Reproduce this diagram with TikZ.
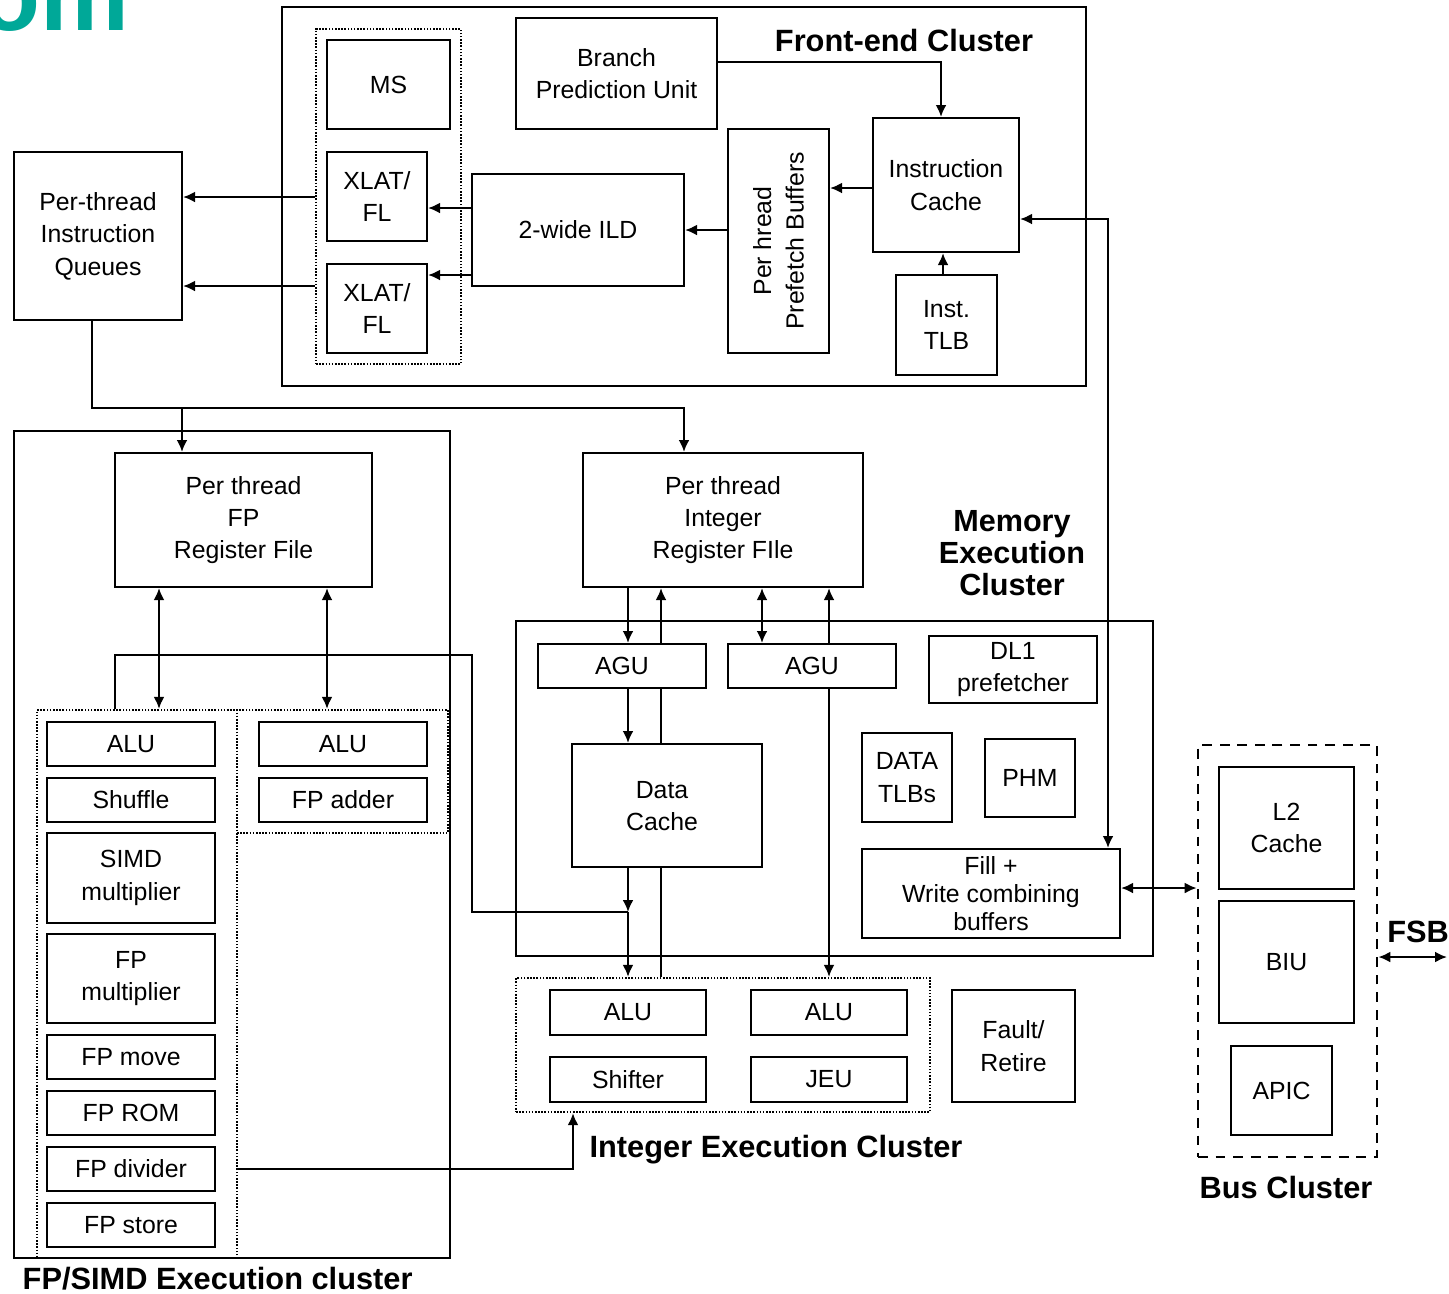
\documentclass[tikz,border=0pt]{standalone}
\usepackage{fontspec}
\setmainfont{Liberation Sans}
\usetikzlibrary{arrows.meta}
\definecolor{brandteal}{HTML}{00A898}

% a block given by its corner coordinates
\newcommand\blockat[7][blk]{%
  \node[#1, minimum width={(#5-#3)*0.01cm}, minimum height={(#6-#4)*0.01cm}]
    (#2) at ({(#3+#5)/2},{(#4+#6)/2}) {#7};}

\tikzset{
  txt/.style={align=center, inner sep=0pt, font=\fontsize{7.06}{9.2}\selectfont},
  blk/.style={txt, draw, line width=0.6pt, fill=white},
  grp/.style={draw, line width=0.6pt, inner sep=0pt},
  dotbox/.style={draw, line width=0.65pt, dash pattern=on 0.45pt off 0.45pt, inner sep=0pt},
  dashbox/.style={draw, line width=0.75pt, dash pattern=on 2.8pt off 2.2pt, inner sep=0pt},
  ttl/.style={align=center, inner sep=0pt, font=\bfseries\fontsize{8.75}{9}\selectfont},
  wire/.style={line width=0.6pt},
  tip/.tip={Latex[length=3.4pt,width=3.1pt]},
  arr/.style={wire, -tip},
  dbl/.style={wire, tip-tip},
}

\begin{document}
\begin{tikzpicture}[x=0.01cm, y=-0.01cm]
\useasboundingbox[fill=white] (0,0) rectangle (1449,1293);

% heading fragment at the top left
\node[anchor=base west, inner sep=0pt, text=brandteal,
      font=\bfseries\fontsize{28.4}{28.4}\selectfont] (om) at (-21,30) {om};

% cluster outlines
\blockat[grp]{fe}{282}{7}{1086}{386}{}
\blockat[grp]{fpc}{14}{431}{450}{1258}{}
\blockat[grp]{mem}{516}{621}{1153}{956}{}
\blockat[dotbox]{dbox}{316}{29}{461}{364}{}
\blockat[dotbox]{fpl}{37}{710}{237}{1258}{}
\blockat[dotbox]{fpr}{237}{710}{448}{833}{}
\blockat[dotbox]{ibox}{516}{978}{930}{1112}{}
\blockat[dashbox]{bus}{1198}{745}{1377}{1157}{}

% front end
\blockat{ms}{327}{40}{450}{129}{MS}
\blockat{xl1}{327}{152}{427}{241}{XLAT/\\FL}
\blockat{xl2}{327}{264}{427}{353}{XLAT/\\FL}
\blockat{bpu}{516}{18}{717}{129}{Branch\\Prediction Unit}
\blockat{ild}{472}{174}{684}{286}{2-wide ILD}
\blockat{ppb}{728}{129}{829}{353}{}
\node[txt, rotate=90] (ppbt) at (ppb.center) {Per hread\\Prefetch Buffers};
\blockat{ic}{873}{118}{1019}{252}{Instruction\\Cache}
\blockat{itlb}{896}{275}{997}{375}{Inst.\\TLB}
\blockat{ptiq}{14}{152}{182}{320}{Per-thread\\Instruction\\Queues}

% FP / SIMD
\blockat{fprf}{115}{453}{372}{587}{Per thread\\FP\\Register File}
\blockat{falu}{47}{722}{215}{766}{ALU}
\blockat{fshuf}{47}{778}{215}{822}{Shuffle}
\blockat{fsimd}{47}{833}{215}{923}{SIMD\\multiplier}
\blockat{fmul}{47}{934}{215}{1023}{FP\\multiplier}
\blockat{fmove}{47}{1035}{215}{1079}{FP move}
\blockat{from}{47}{1091}{215}{1135}{FP ROM}
\blockat{fdiv}{47}{1147}{215}{1191}{FP divider}
\blockat{fstore}{47}{1203}{215}{1247}{FP store}
\blockat{falu2}{259}{722}{427}{766}{ALU}
\blockat{fadd}{259}{778}{427}{822}{FP adder}

% integer and memory
\blockat{irf}{583}{453}{863}{587}{Per thread\\Integer\\Register FIle}
\blockat{agu1}{538}{644}{706}{688}{AGU}
\blockat{agu2}{728}{644}{896}{688}{AGU}
\blockat{dl1}{929}{636}{1097}{703}{DL1\\prefetcher}
\blockat{dtlb}{862}{733}{952}{822}{DATA\\TLBs}
\blockat{phm}{985}{739}{1075}{817}{PHM}
\blockat[blk, font=\fontsize{7.06}{8}\selectfont]{fill}{862}{849}{1120}{938}{Fill +\\Write combining\\buffers}
\blockat{dc}{572}{744}{762}{867}{}
\node[txt] (dct) at (662,806) {Data\\Cache};
\blockat{ialu1}{550}{990}{706}{1035}{ALU}
\blockat{ialu2}{751}{990}{907}{1035}{ALU}
\blockat{shift}{550}{1057}{706}{1102}{Shifter}
\blockat{jeu}{751}{1057}{907}{1102}{JEU}
\blockat{fault}{952}{990}{1075}{1102}{Fault/\\Retire}

% bus
\blockat{l2}{1219}{767}{1354}{889}{L2\\Cache}
\blockat{biu}{1219}{901}{1354}{1023}{BIU}
\blockat{apic}{1231}{1046}{1332}{1135}{APIC}

% cluster titles
\node[ttl] (tfe) at (904,40) {Front-end Cluster};
\node[ttl, font=\bfseries\fontsize{8.7}{9}\selectfont] (tmem) at (1012,553) {Memory\\Execution\\Cluster};
\node[ttl] (tint) at (776,1150) {Integer Execution Cluster};
\node[ttl] (tbus) at (1286,1187) {Bus Cluster};
\node[ttl] (tfsb) at (1418,932) {FSB};
\node[ttl, anchor=base west] (tfp) at (22,1289) {FP/SIMD Execution cluster};

% front-end connections
\draw[arr] (bpu.east |- 0,62) -| (ic.north -| 941,0);
\draw[arr] (ic.west |- 0,188) -- (ppb.east |- 0,188);
\draw[arr] (ppb.west |- 0,230) -- (ild.east |- 0,230);
\draw[arr] (ild.west |- 0,208) -- (xl1.east |- 0,208);
\draw[arr] (ild.west |- 0,275) -- (xl2.east |- 0,275);
\draw[arr] (dbox.west |- 0,197) -- (ptiq.east |- 0,197);
\draw[arr] (dbox.west |- 0,286) -- (ptiq.east |- 0,286);
\draw[arr] (itlb.north -| 943,0) -- (ic.south -| 943,0);
\draw[dbl] (ic.east |- 0,219) -| (fill.north -| 1108,0);

% queues to register files
\coordinate (qj) at (182,408);
\draw[arr] (ptiq.south -| 92,0) |- (qj) -| (irf.north -| 684,0);
\draw[arr] (qj) -- (fprf.north -| 182,0);

% FP register file
\draw[dbl] (fprf.south -| 159,0) -- (fpl.north -| 159,0);
\draw[dbl] (fprf.south -| 327,0) -- (fpr.north -| 327,0);
\coordinate (mj) at (628,912);
\draw[wire] (fpl.north -| 115,0) |- (472,655) |- (mj);
\draw[arr] (fdiv.east -| fpl.east) -| (ibox.south -| 573,0);

% integer register file and memory
\draw[arr] (irf.south -| 628,0) -- (agu1.north -| 628,0);
\draw[arr] (agu1.north -| 661,0) -- (irf.south -| 661,0);
\draw[dbl] (irf.south -| 762,0) -- (agu2.north -| 762,0);
\draw[arr] (agu2.north -| 829,0) -- (irf.south -| 829,0);
\draw[arr] (agu1.south -| 628,0) -- (dc.north -| 628,0);
\draw[wire] (agu1.south -| 661,0) -- (dc.north -| 661,0);
\draw[arr] (dc.south -| 628,0) -- (mj);
\draw[arr] (mj) -- (ibox.north -| 628,0);
\draw[wire] (dc.south -| 661,0) -- (ibox.north -| 661,0);
\draw[arr] (agu2.south -| 829,0) -- (ibox.north -| 829,0);

% bus connections
\draw[dbl] (fill.east |- 0,888) -- (bus.west |- 0,888);
\coordinate (fsbend) at (1447,957);
\draw[dbl] (bus.east |- 0,957) -- (fsbend);
\end{tikzpicture}
\end{document}
